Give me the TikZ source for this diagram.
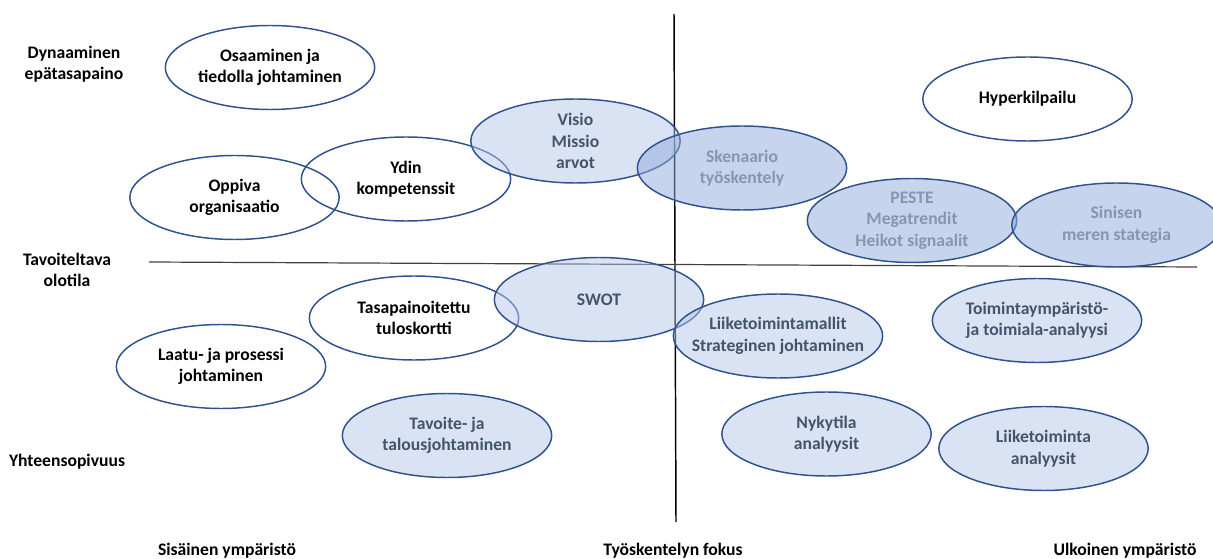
\documentclass[tikz,border=0pt]{standalone}
\usepackage{fontspec}
\setmainfont{Carlito}
\usetikzlibrary{shapes.geometric}
\definecolor{rim}{RGB}{47,82,143}
\definecolor{paleblue}{RGB}{180,199,231}
\definecolor{deepblue}{RGB}{143,170,220}
\definecolor{slate}{RGB}{68,84,106}
\definecolor{mist}{RGB}{132,151,176}
\newcommand{\diagfont}{\fontsize{13.2}{16.1}\selectfont\bfseries}

\begin{document}
\begin{tikzpicture}[x=0.75pt, y=-0.75pt,
  bubble/.style={draw=rim, line width=1.1pt, ellipse, minimum width=157pt, minimum height=63pt,
    inner xsep=-30pt, inner ysep=-10pt, align=center, font=\diagfont, text opacity=1},
  plain/.style={bubble, text=black},
  pale/.style={bubble, fill=paleblue, fill opacity=0.5, text=slate},
  deep/.style={bubble, fill=deepblue, fill opacity=0.5, text=mist},
  axislabel/.style={align=center, font=\diagfont}]
  \useasboundingbox (0,0) rectangle (1213,559);

  % axes
  \coordinate (top) at (674,14);
  \coordinate (bottom) at (676,522);
  \coordinate (left) at (149,262);
  \coordinate (right) at (1197,267);
  \draw [line width=1.1pt] (top) -- (bottom);
  \draw [line width=0.9pt, black!75] (left) -- (right);

  % side and bottom labels
  \node [axislabel] (dyn) at (74,64) {Dynaaminen\\epätasapaino};
  \node [axislabel] (tav) at (67,270) {Tavoiteltava\\olotila};
  \node [axislabel] (yht) at (67,462) {Yhteensopivuus};
  \node [axislabel] (sis) at (227,551) {Sisäinen ympäristö};
  \node [axislabel] (fok) at (673,551) {Työskentelyn fokus};
  \node [axislabel] (ulk) at (1125,551) {Ulkoinen ympäristö};

  % upper half
  \node [plain] (osaa) at (270,67.5) {Osaaminen ja\\tiedolla johtaminen};
  \node [plain] (oppi) at (234.5,197.5) {Oppiva\\organisaatio};
  \node [plain] (ydin) at (406,179) {Ydin\\kompetenssit};
  \node [pale]  (visio) at (575.5,141) {Visio\\Missio\\arvot};
  \node [deep]  (sken) at (742,168) {Skenaario\\työskentely};
  \node [plain] (hyper) at (1027.5,99) {Hyperkilpailu};
  \node [deep]  (peste) at (912,220.5) {PESTE\\Megatrendit\\Heikot signaalit};
  \node [deep]  (sini) at (1116.5,225) {Sinisen\\meren stategia};

  % lower half
  \node [plain] (tasa) at (414,318) {Tasapainoitettu\\tuloskortti};
  \node [plain] (laatu) at (221,366.5) {Laatu- ja prosessi\\johtaminen};
  \node [pale]  (swot) at (599,299.5) {SWOT};
  \node [pale]  (malli) at (778,336) {Liiketoimintamallit\\Strateginen johtaminen};
  \node [pale]  (toim) at (1037,320.5) {Toimintaympäristö-\\ja toimiala-analyysi};
  \node [pale]  (talous) at (447,435.5) {Tavoite- ja\\talousjohtaminen};
  \node [pale]  (nyky) at (826.5,434) {Nykytila\\analyysit};
  \node [pale]  (liike) at (1043.5,448.5) {Liiketoiminta\\analyysit};
\end{tikzpicture}
\end{document}
